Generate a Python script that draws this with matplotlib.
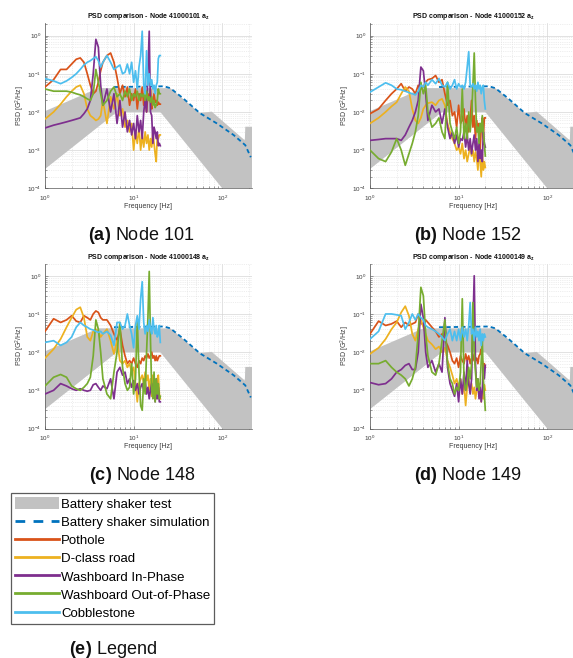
import numpy as np
import matplotlib
matplotlib.use('Agg')
import matplotlib.pyplot as plt
from matplotlib.patches import Patch
from matplotlib.lines import Line2D
from matplotlib.ticker import LogLocator, NullFormatter

plt.rcParams['font.family'] = ['Liberation Sans', 'DejaVu Sans']
plt.rcParams['mathtext.fontset'] = 'custom'
plt.rcParams['mathtext.rm'] = 'Liberation Sans'
plt.rcParams['mathtext.it'] = 'Liberation Sans:italic'
plt.rcParams['mathtext.bf'] = 'Liberation Sans:bold'

# ---------------- data ----------------
FREQ = [1, 1.25, 1.5, 1.75, 2, 2.25, 2.5, 2.75, 3, 3.25, 3.5, 3.75, 4, 4.25, 4.5,
        5, 5.5, 6, 6.5, 7, 7.5, 8, 8.5, 9, 9.5, 10, 10.5, 11, 11.5, 12, 12.5,
        13, 13.5, 14, 14.5, 15, 15.5, 16, 16.5, 17, 17.5, 18, 18.5, 19, 19.5, 20]

SERIES_LABELS = ['Pothole', 'D-class road', 'Washboard In-Phase',
                 'Washboard Out-of-Phase', 'Cobblestone']
SERIES_COLORS = ['#D95319', '#EDB120', '#7E2F8E', '#77AC30', '#4DBEEE']

# Node 101
A_POTHOLE = [0.045, 0.07, 0.13, 0.13, 0.18, 0.24, 0.26, 0.2, 0.1, 0.05, 0.03, 0.035, 0.06, 0.12, 0.2,
             0.3, 0.35, 0.2, 0.08, 0.03, 0.05, 0.025, 0.045, 0.015, 0.03, 0.02, 0.04, 0.012, 0.03, 0.02, 0.045,
             0.015, 0.025, 0.01, 0.03, 0.02, 0.04, 0.012, 0.02, 0.03, 0.018, 0.02, 0.015, 0.018, 0.016, 0.016]
A_DCLASS = [0.0065, 0.01, 0.016, 0.025, 0.035, 0.045, 0.05, 0.03, 0.012, 0.008, 0.007, 0.006, 0.0065, 0.008, 0.02,
            0.005, 0.025, 0.012, 0.03, 0.008, 0.012, 0.004, 0.006, 0.003, 0.005, 0.001, 0.003, 0.0015, 0.004, 0.001, 0.0025,
            0.0012, 0.003, 0.0015, 0.0025, 0.001, 0.002, 0.0012, 0.003, 0.0015, 0.0008, 0.0005, 0.0025, 0.002, 0.0025, 0.0025]
A_WB_IN = [0.0038, 0.0045, 0.005, 0.0055, 0.006, 0.0065, 0.007, 0.009, 0.012, 0.02, 0.1, 0.8, 0.5, 0.05, 0.015,
           0.04, 0.01, 0.03, 0.005, 0.02, 0.004, 0.01, 0.003, 0.006, 0.0025, 0.005, 0.002, 0.008, 0.003, 0.006, 0.002,
           0.01, 0.02, 0.01, 0.1, 1.3, 0.01, 0.008, 0.0015, 0.004, 0.003, 0.002, 0.003, 0.0013, 0.0015, 0.0013]
A_WB_OUT = [0.04, 0.035, 0.035, 0.035, 0.033, 0.03, 0.028, 0.025, 0.022, 0.02, 0.03, 0.13, 0.06, 0.03, 0.015,
            0.02, 0.035, 0.045, 0.025, 0.03, 0.02, 0.035, 0.025, 0.04, 0.02, 0.03, 0.025, 0.035, 0.02, 0.03, 0.025,
            0.03, 0.02, 0.035, 0.02, 0.025, 0.018, 0.025, 0.015, 0.02, 0.013, 0.015, 0.02, 0.04, 0.03, 0.03]
A_COBBLE = [0.075, 0.065, 0.055, 0.065, 0.08, 0.1, 0.13, 0.17, 0.2, 0.22, 0.25, 0.28, 0.22, 0.15, 0.2,
            0.3, 0.2, 0.13, 0.15, 0.17, 0.1, 0.11, 0.18, 0.1, 0.2, 0.06, 0.12, 0.04, 0.15, 0.3, 1.3,
            0.05, 0.03, 0.4, 0.05, 0.1, 0.05, 0.07, 0.04, 0.05, 0.03, 0.05, 0.06, 0.25, 0.3, 0.3]

# Node 152
B_POTHOLE = [0.009, 0.012, 0.02, 0.03, 0.04, 0.055, 0.035, 0.045, 0.04, 0.03, 0.05, 0.04, 0.045, 0.06, 0.07,
             0.075, 0.09, 0.06, 0.07, 0.03, 0.015, 0.02, 0.008, 0.01, 0.004, 0.015, 0.005, 0.006, 0.012, 0.004, 0.008,
             0.003, 0.006, 0.02, 0.004, 0.008, 0.002, 0.006, 0.003, 0.005, 0.001, 0.004, 0.007, 0.002, 0.007, 0.007]
B_DCLASS = [0.005, 0.007, 0.01, 0.014, 0.018, 0.03, 0.045, 0.035, 0.012, 0.006, 0.005, 0.007, 0.012, 0.015, 0.017,
            0.018, 0.015, 0.02, 0.022, 0.015, 0.005, 0.003, 0.002, 0.0015, 0.001, 0.0012, 0.0008, 0.0015, 0.0006, 0.001, 0.0005,
            0.0008, 0.0012, 0.0007, 0.001, 0.0005, 0.0009, 0.0006, 0.0003, 0.001, 0.0005, 0.0002, 0.0008, 0.0003, 0.0005, 0.00035]
B_WB_IN = [0.0018, 0.0019, 0.002, 0.002, 0.002, 0.0018, 0.0025, 0.004, 0.006, 0.01, 0.02, 0.15, 0.12, 0.03, 0.006,
           0.015, 0.01, 0.012, 0.005, 0.012, 0.004, 0.002, 0.003, 0.0015, 0.0025, 0.0012, 0.002, 0.0018, 0.003, 0.0012, 0.0025,
           0.001, 0.002, 0.0008, 0.0015, 0.0025, 0.001, 0.002, 0.0005, 0.0015, 0.0006, 0.001, 0.0005, 0.003, 0.0015, 0.0012]
B_WB_OUT = [0.001, 0.0006, 0.0005, 0.0009, 0.002, 0.001, 0.0004, 0.0008, 0.0015, 0.003, 0.008, 0.06, 0.03, 0.05, 0.01,
            0.004, 0.005, 0.007, 0.003, 0.002, 0.06, 0.005, 0.003, 0.002, 0.004, 0.0015, 0.003, 0.04, 0.002, 0.005, 0.002,
            0.01, 0.003, 0.008, 0.05, 0.35, 0.02, 0.003, 0.004, 0.0015, 0.005, 0.003, 0.008, 0.003, 0.0015, 0.0007]
B_COBBLE = [0.033, 0.045, 0.058, 0.05, 0.04, 0.038, 0.035, 0.032, 0.03, 0.028, 0.035, 0.05, 0.045, 0.06, 0.05,
            0.07, 0.055, 0.075, 0.05, 0.045, 0.06, 0.04, 0.05, 0.07, 0.04, 0.055, 0.045, 0.05, 0.04, 0.06, 0.15,
            0.38, 0.05, 0.045, 0.055, 0.04, 0.05, 0.035, 0.06, 0.04, 0.05, 0.03, 0.045, 0.05, 0.02, 0.012]

# Node 148
C_POTHOLE = [0.035, 0.075, 0.06, 0.07, 0.09, 0.065, 0.06, 0.09, 0.08, 0.07, 0.1, 0.12, 0.11, 0.08, 0.07,
             0.07, 0.05, 0.03, 0.02, 0.04, 0.015, 0.008, 0.005, 0.006, 0.005, 0.007, 0.005, 0.004, 0.006, 0.005, 0.007,
             0.006, 0.008, 0.007, 0.009, 0.007, 0.008, 0.01, 0.007, 0.008, 0.006, 0.008, 0.006, 0.007, 0.008, 0.008]
C_DCLASS = [0.007, 0.012, 0.022, 0.045, 0.08, 0.13, 0.15, 0.08, 0.025, 0.02, 0.035, 0.04, 0.035, 0.025, 0.03,
            0.04, 0.02, 0.009, 0.02, 0.006, 0.005, 0.006, 0.004, 0.005, 0.003, 0.004, 0.0015, 0.0005, 0.0015, 0.002, 0.0025,
            0.0015, 0.003, 0.0018, 0.0025, 0.001, 0.002, 0.0007, 0.0025, 0.001, 0.0015, 0.0006, 0.002, 0.0025, 0.0008, 0.0006]
C_WB_IN = [0.0008, 0.001, 0.0015, 0.0013, 0.0011, 0.001, 0.0011, 0.001, 0.00095, 0.001, 0.0014, 0.0015, 0.0012, 0.001, 0.0013,
           0.0011, 0.002, 0.0006, 0.003, 0.004, 0.0025, 0.003, 0.0015, 0.002, 0.0012, 0.0018, 0.001, 0.0015, 0.0008, 0.0012, 0.0015,
           0.001, 0.0018, 0.0008, 0.0012, 0.0006, 0.001, 0.0015, 0.0008, 0.0012, 0.0005, 0.002, 0.0006, 0.0012, 0.0005, 0.0005]
C_WB_OUT = [0.0013, 0.0022, 0.0026, 0.0022, 0.0013, 0.0011, 0.001, 0.0012, 0.0015, 0.0022, 0.008, 0.07, 0.04, 0.01, 0.002,
            0.0008, 0.0006, 0.003, 0.01, 0.06, 0.004, 0.0015, 0.001, 0.0012, 0.005, 0.0008, 0.002, 0.07, 0.003, 0.0004, 0.0003,
            0.002, 0.0008, 0.01, 0.08, 1.3, 0.02, 0.001, 0.0006, 0.003, 0.0005, 0.002, 0.0008, 0.0015, 0.0006, 0.0007]
C_COBBLE = [0.018, 0.02, 0.015, 0.018, 0.025, 0.045, 0.06, 0.05, 0.045, 0.04, 0.038, 0.035, 0.033, 0.035, 0.03,
            0.035, 0.028, 0.015, 0.06, 0.06, 0.04, 0.05, 0.1, 0.05, 0.03, 0.013, 0.05, 0.09, 0.04, 0.25, 0.7,
            0.06, 0.03, 0.05, 0.035, 0.07, 0.04, 0.03, 0.08, 0.04, 0.03, 0.05, 0.025, 0.03, 0.05, 0.018]

# Node 149
D_POTHOLE = [0.03, 0.065, 0.05, 0.055, 0.065, 0.045, 0.06, 0.05, 0.055, 0.06, 0.1, 0.06, 0.05, 0.07, 0.06,
             0.045, 0.035, 0.025, 0.03, 0.02, 0.015, 0.01, 0.006, 0.005, 0.007, 0.004, 0.008, 0.006, 0.005, 0.009, 0.006,
             0.008, 0.005, 0.007, 0.006, 0.009, 0.006, 0.007, 0.005, 0.008, 0.009, 0.012, 0.006, 0.004, 0.005, 0.004]
D_DCLASS = [0.009, 0.013, 0.022, 0.04, 0.06, 0.11, 0.16, 0.09, 0.03, 0.02, 0.04, 0.07, 0.045, 0.03, 0.02,
            0.016, 0.012, 0.014, 0.01, 0.013, 0.006, 0.004, 0.0025, 0.0015, 0.002, 0.0012, 0.002, 0.0008, 0.0015, 0.0004, 0.0012,
            0.002, 0.001, 0.0015, 0.0008, 0.0012, 0.0006, 0.001, 0.0015, 0.0007, 0.0012, 0.0005, 0.0009, 0.0006, 0.0014, 0.001]
D_WB_IN = [0.0016, 0.0014, 0.0015, 0.002, 0.003, 0.0035, 0.0045, 0.005, 0.0035, 0.0035, 0.01, 0.18, 0.08, 0.01, 0.004,
           0.006, 0.003, 0.005, 0.003, 0.08, 0.004, 0.0015, 0.001, 0.0007, 0.0015, 0.0005, 0.002, 0.0008, 0.003, 0.001, 0.006,
           0.0015, 0.0008, 0.002, 0.05, 1.0, 0.005, 0.001, 0.002, 0.0006, 0.0012, 0.0005, 0.001, 0.004, 0.002, 0.0045]
D_WB_OUT = [0.005, 0.005, 0.006, 0.004, 0.003, 0.0025, 0.002, 0.0013, 0.002, 0.004, 0.03, 0.5, 0.3, 0.03, 0.008,
            0.003, 0.0025, 0.005, 0.02, 0.07, 0.005, 0.002, 0.0015, 0.0008, 0.0012, 0.001, 0.003, 0.25, 0.002, 0.001, 0.0015,
            0.004, 0.002, 0.005, 0.2, 0.01, 0.003, 0.0012, 0.002, 0.001, 0.0015, 0.006, 0.02, 0.002, 0.0008, 0.0003]
D_COBBLE = [0.022, 0.035, 0.1, 0.1, 0.095, 0.09, 0.04, 0.06, 0.1, 0.07, 0.1, 0.08, 0.07, 0.05, 0.045,
            0.04, 0.035, 0.03, 0.025, 0.02, 0.03, 0.04, 0.02, 0.035, 0.02, 0.04, 0.02, 0.045, 0.025, 0.04, 0.02,
            0.05, 0.2, 0.03, 0.04, 0.02, 0.045, 0.025, 0.035, 0.02, 0.04, 0.015, 0.03, 0.02, 0.03, 0.025]

# Battery shaker test envelope (upper and lower edge) and simulation
SHAKER_UP_F = [1, 4, 26, 56, 76, 180, 182, 230]
SHAKER_UP_V = [0.0105, 0.042, 0.042, 0.0093, 0.0102, 0.0018, 0.0041, 0.0041]
SHAKER_LO_F = [1, 6.5, 20, 100, 230]
SHAKER_LO_V = [0.00032, 0.01, 0.01, 0.0001, 0.00001]
SIM_F = [6, 12, 22, 26, 36, 56, 87, 134, 182, 210]
SIM_V = [0.045, 0.046, 0.047, 0.042, 0.023, 0.0093, 0.005, 0.0025, 0.00135, 0.00065]

NODE_IDS = ['41000101', '41000152', '41000148', '41000149']
CAPTIONS = [('(a)', 'Node 101'), ('(b)', 'Node 152'), ('(c)', 'Node 148'), ('(d)', 'Node 149')]
PANELS = [
    [A_POTHOLE, A_DCLASS, A_WB_IN, A_WB_OUT, A_COBBLE],
    [B_POTHOLE, B_DCLASS, B_WB_IN, B_WB_OUT, B_COBBLE],
    [C_POTHOLE, C_DCLASS, C_WB_IN, C_WB_OUT, C_COBBLE],
    [D_POTHOLE, D_DCLASS, D_WB_IN, D_WB_OUT, D_COBBLE],
]

# ---------------- layout ----------------
W, H = 573, 658
fig = plt.figure(figsize=(W / 100, H / 100), dpi=100)

def px_axes(left, top, right, bottom):
    return fig.add_axes([left / W, 1 - bottom / H, (right - left) / W, (bottom - top) / H])

AX_BOXES = [(45, 23.3, 251.7, 188.3), (370, 23.3, 576.7, 188.3),
            (45, 263.5, 251.7, 428.5), (370, 263.5, 576.7, 428.5)]
CAP_POS = [(141, 236), (468, 236), (142, 476), (468, 476)]

GRAY = '#c2c2c2'
SIM_COLOR = '#0072BD'
TXT = '#3a3a3a'

for i, box in enumerate(AX_BOXES):
    ax = px_axes(*box)
    axw = box[2] - box[0]
    axh = box[3] - box[1]
    ax.set_xscale('log')
    ax.set_yscale('log')
    poly_x = list(SHAKER_UP_F) + list(SHAKER_LO_F[::-1])
    poly_y = list(SHAKER_UP_V) + list(SHAKER_LO_V[::-1])
    ax.fill(poly_x, poly_y, color=GRAY, lw=0, zorder=1)
    ax.plot(SIM_F, SIM_V, color=SIM_COLOR, lw=1.3, ls=(0, (2.4, 1.7)), zorder=2)
    for vals, col in zip(PANELS[i], SERIES_COLORS):
        ax.plot(FREQ, vals, color=col, lw=1.25, zorder=3, solid_joinstyle='round')
    ax.set_xlim(1, 215)
    ax.set_ylim(1e-4, 2.1)
    ax.xaxis.set_major_locator(LogLocator(base=10, numticks=10))
    ax.xaxis.set_minor_locator(LogLocator(base=10, subs=np.arange(2, 10), numticks=20))
    ax.yaxis.set_major_locator(LogLocator(base=10, numticks=10))
    ax.yaxis.set_minor_locator(LogLocator(base=10, subs=np.arange(2, 10), numticks=20))
    ax.xaxis.set_minor_formatter(NullFormatter())
    ax.yaxis.set_minor_formatter(NullFormatter())
    ax.grid(True, which='major', color='#d6d6d6', lw=0.5, ls='-', zorder=0)
    ax.grid(True, which='minor', color='#dedede', lw=0.5, ls=':', zorder=0)
    ax.set_axisbelow(True)
    for s in ['top', 'right']:
        ax.spines[s].set_visible(False)
    for s in ['left', 'bottom']:
        ax.spines[s].set_color('#555555')
        ax.spines[s].set_linewidth(0.5)
    ax.tick_params(which='both', direction='in', labelsize=4.5, colors='#555555',
                   labelcolor=TXT, width=0.4)
    ax.tick_params(axis='x', which='both', pad=3.6)
    ax.tick_params(axis='y', which='both', pad=2.8)
    ax.tick_params(which='major', length=2.5)
    ax.tick_params(which='minor', length=1.3)
    ax.set_xlabel('Frequency [Hz]', fontsize=5, color=TXT)
    ax.xaxis.set_label_coords(0.5, -15.0 / axh)
    ax.xaxis.label.set_va('top')
    ax.set_ylabel('PSD [G$^2$/Hz]', fontsize=5, color=TXT)
    ax.yaxis.set_label_coords(-18.0 / axw, 0.5)
    ax.set_title('PSD comparison - Node ' + NODE_IDS[i] + r' $\mathbf{a_z}$',
                 fontsize=5, fontweight='bold', color='#111111', pad=3.5)
    cx, cy = CAP_POS[i]
    tag, name = CAPTIONS[i]
    fig.text(cx / W, 1 - cy / H, r'$\mathbf{' + tag + '}$ ' + name,
             ha='center', va='center', fontsize=13, color='#111111')

# ---------------- legend ----------------
handles = [Patch(facecolor=GRAY, edgecolor='none'),
           Line2D([], [], color=SIM_COLOR, lw=2, ls=(0, (3.5, 3)))]
handles += [Line2D([], [], color=c, lw=2) for c in SERIES_COLORS]
labels = ['Battery shaker test', 'Battery shaker simulation'] + SERIES_LABELS
leg = fig.legend(handles, labels, loc='upper left', bbox_to_anchor=(11 / W, 1 - 493 / H),
                 frameon=True, fancybox=False, edgecolor='#333333', fontsize=9.5,
                 handlelength=3.3, handleheight=1.05, handletextpad=0.2,
                 labelspacing=0.35, borderpad=0.3, borderaxespad=0)
leg.get_frame().set_linewidth(0.9)
fig.text(113 / W, 1 - 649 / H, r'$\mathbf{(e)}$ Legend', ha='center', va='center',
         fontsize=13, color='#111111')

fig.savefig('out.png', dpi=100)
